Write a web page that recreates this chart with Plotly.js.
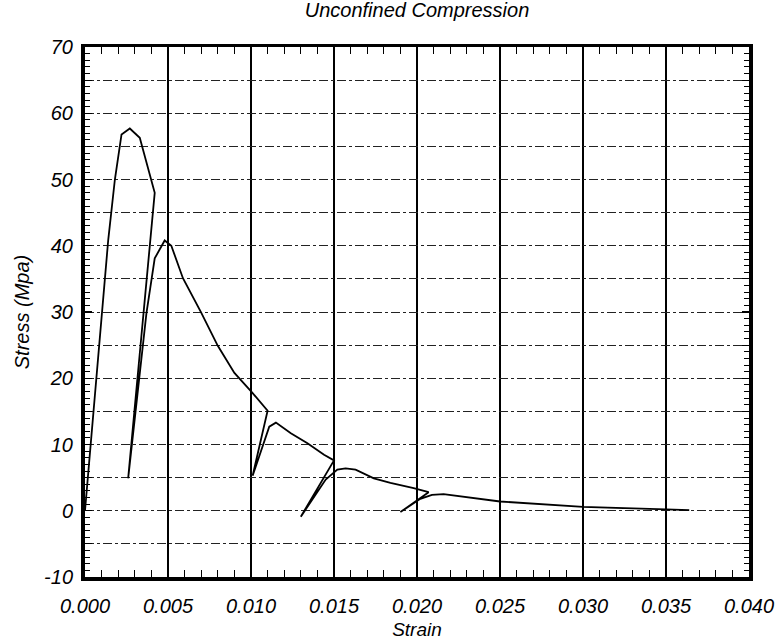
<!DOCTYPE html>
<html>
<head>
<meta charset="utf-8">
<script src="https://cdn.plot.ly/plotly-3.0.1.min.js"></script>
<style>html,body{margin:0;padding:0;background:#fff;}#chart{width:777px;height:644px;}</style>
</head>
<body>
<div id="chart"></div>
<script>
// Strain values (one continuous test record)
const strain = [0.0000, 0.0014, 0.0018, 0.0022, 0.0027, 0.0033, 0.0042, 0.0039, 0.0026,
  0.0037, 0.0042, 0.0048, 0.0052, 0.0059, 0.0070, 0.0080, 0.0090, 0.0101, 0.0110,
  0.0101, 0.0111, 0.0115, 0.0124, 0.0134, 0.0144, 0.0150,
  0.0130, 0.0145, 0.0152, 0.0157, 0.0163, 0.0174, 0.0184, 0.0198, 0.0207,
  0.0190, 0.0202, 0.0209, 0.0216, 0.0250, 0.0300, 0.0350, 0.0364];
// Stress (MPa)
const stress = [0.0, 40.9, 50.0, 56.8, 57.7, 56.3, 48.0, 39.9, 4.9,
  29.8, 38.1, 40.8, 40.0, 35.1, 29.9, 24.9, 20.8, 17.75, 15.1,
  5.3, 12.7, 13.3, 11.7, 10.2, 8.45, 7.6,
  -0.9, 4.7, 6.2, 6.4, 6.2, 4.9, 4.2, 3.4, 2.8,
  -0.2, 1.8, 2.4, 2.5, 1.4, 0.6, 0.2, 0.1];

const xTickVals = [0, 0.005, 0.010, 0.015, 0.020, 0.025, 0.030, 0.035, 0.040];
const xTickText = ["0.000", "0.005", "0.010", "0.015", "0.020", "0.025", "0.030", "0.035", "0.040"];
const yTickVals = [-10, -5, 0, 5, 10, 15, 20, 25, 30, 35, 40, 45, 50, 55, 60, 65, 70];
const yTickText = ["-10", "", "0", "", "10", "", "20", "", "30", "", "40", "", "50", "", "60", "", "70"];

const titleText = "Unconfined Compression";
const xTitle = "Strain";
const yTitle = "Stress (Mpa)";

const fontFam = "Liberation Sans, Arial, sans-serif";

const data = [{
  x: strain, y: stress, type: "scatter", mode: "lines",
  line: {color: "#000", width: 1.8},
  hoverinfo: "skip", showlegend: false
}];

const layout = {
  width: 777, height: 644,
  margin: {l: 85, r: 28, t: 47, b: 67, pad: 0},
  paper_bgcolor: "#fff", plot_bgcolor: "#fff",
  title: {text: "<i>" + titleText + "</i>", x: 0.5, xref: "paper", xanchor: "center",
          y: 0.995, yref: "container", yanchor: "top",
          font: {family: fontFam, size: 20, color: "#000"}},
  xaxis: {
    range: [0, 0.040], tickmode: "array", tickvals: xTickVals, ticktext: xTickText,
    showgrid: true, gridcolor: "#000", gridwidth: 1.5,
    zeroline: false, showline: true, linecolor: "#000", linewidth: 3.5, mirror: "allticks",
    ticks: "inside", ticklen: 9, tickwidth: 1.2, tickcolor: "#000",
    minor: {dtick: 0.001, ticks: "inside", ticklen: 7, tickwidth: 1, tickcolor: "#000", showgrid: false},
    tickfont: {family: fontFam, size: 20, color: "#000", style: "italic"},
    ticklabelstandoff: 8,
    title: {text: "<i>" + xTitle + "</i>", standoff: 8, font: {family: fontFam, size: 19, color: "#000"}},
    fixedrange: true
  },
  yaxis: {
    range: [-10, 70], tickmode: "array", tickvals: yTickVals, ticktext: yTickText,
    showgrid: true, gridcolor: "#222", gridwidth: 1, griddash: "dashdot",
    zeroline: false, showline: true, linecolor: "#000", linewidth: 4, mirror: "allticks",
    ticks: "inside", ticklen: 7, tickwidth: 1.2, tickcolor: "#000",
    minor: {dtick: 1, ticks: "inside", ticklen: 5, tickwidth: 1, tickcolor: "#000", showgrid: false},
    tickfont: {family: fontFam, size: 20, color: "#000", style: "italic"},
    ticklabelstandoff: 4,
    title: {text: "<i>" + yTitle + "</i>", standoff: 10, font: {family: fontFam, size: 20, color: "#000"}},
    fixedrange: true
  }
};

Plotly.newPlot("chart", data, layout, {displayModeBar: false, staticPlot: true});
</script>
</body>
</html>
